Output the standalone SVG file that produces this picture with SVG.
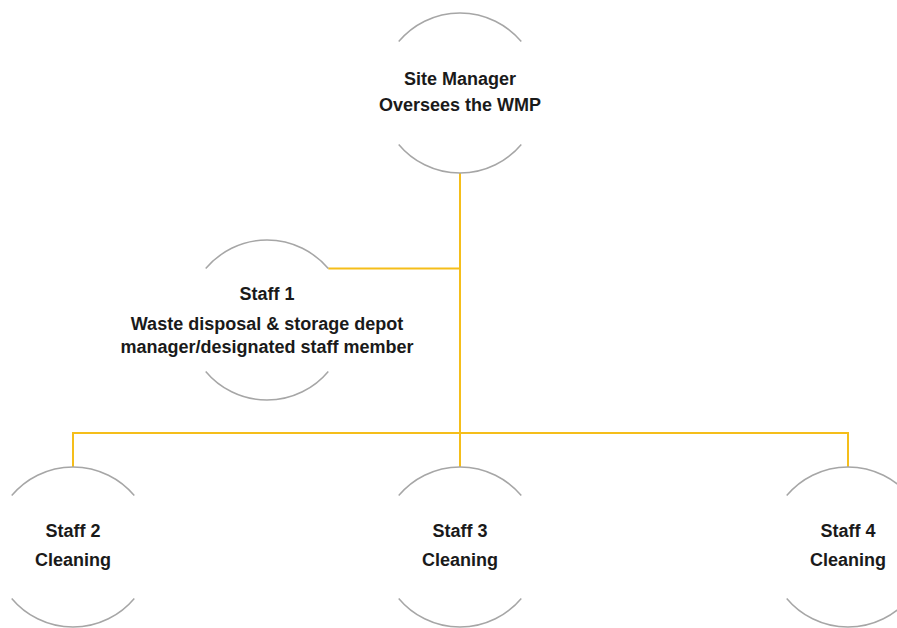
<svg xmlns="http://www.w3.org/2000/svg" width="897" height="628" viewBox="0 0 897 628">
<style>
.arc{fill:none;stroke:#a6a6a6;stroke-width:1.5}
.conn{fill:none;stroke:#f5be1a;stroke-width:2}
text{font-family:"Liberation Sans",Arial,sans-serif;font-weight:bold;font-size:18px;fill:#1a1a1a;text-anchor:middle}
</style>
<rect width="897" height="628" fill="#ffffff"/>
<g id="connectors">
<path class="conn" d="M460 173 V467"/>
<path class="conn" d="M328.3 268.6 H460"/>
<path class="conn" d="M73 467 V433 H848 V467"/>
</g>
<g id="site-manager">
<path class="arc" d="M398.7 41.6 A80 80 0 0 1 521.3 41.6"/>
<path class="arc" d="M398.7 144.4 A80 80 0 0 0 521.3 144.4"/>
<text x="460" y="85">Site Manager</text>
<text x="460" y="111">Oversees the WMP</text>
</g>
<g id="staff1">
<path class="arc" d="M205.7 268.6 A80 80 0 0 1 328.3 268.6"/>
<path class="arc" d="M205.7 371.4 A80 80 0 0 0 328.3 371.4"/>
<text x="267" y="300">Staff 1</text>
<text x="267" y="330">Waste disposal &amp; storage depot</text>
<text x="267" y="353">manager/designated staff member</text>
</g>
<g id="staff2">
<path class="arc" d="M11.7 495.6 A80 80 0 0 1 134.3 495.6"/>
<path class="arc" d="M11.7 598.4 A80 80 0 0 0 134.3 598.4"/>
<text x="73" y="537">Staff 2</text>
<text x="73" y="566">Cleaning</text>
</g>
<g id="staff3">
<path class="arc" d="M398.7 495.6 A80 80 0 0 1 521.3 495.6"/>
<path class="arc" d="M398.7 598.4 A80 80 0 0 0 521.3 598.4"/>
<text x="460" y="537">Staff 3</text>
<text x="460" y="566">Cleaning</text>
</g>
<g id="staff4">
<path class="arc" d="M786.7 495.6 A80 80 0 0 1 909.3 495.6"/>
<path class="arc" d="M786.7 598.4 A80 80 0 0 0 909.3 598.4"/>
<text x="848" y="537">Staff 4</text>
<text x="848" y="566">Cleaning</text>
</g>
</svg>
